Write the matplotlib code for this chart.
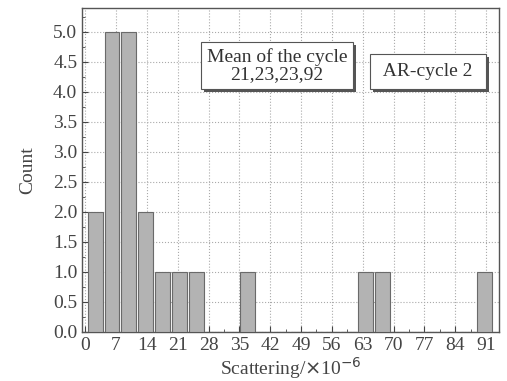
import matplotlib.pyplot as plt
import numpy as np
from matplotlib.ticker import AutoMinorLocator
from matplotlib.patches import Rectangle

# histogram bins
bin_start = 0.34
bin_width = 3.84
counts = [2, 5, 5, 2, 1, 1, 1, 0, 0, 1, 0, 0, 0, 0, 0, 0, 1, 1, 0, 0, 0, 0, 0, 1]
xticks = [0, 7, 14, 21, 28, 35, 42, 49, 56, 63, 70, 77, 84, 91]
yticks = [0.0, 0.5, 1.0, 1.5, 2.0, 2.5, 3.0, 3.5, 4.0, 4.5, 5.0]

plt.rcParams['font.family'] = ['Liberation Serif', 'DejaVu Serif']

fig = plt.figure(figsize=(5.07, 3.81), dpi=100)
ax = fig.add_axes([0.162, 0.129, 0.822, 0.850])

lefts = bin_start + bin_width * np.arange(len(counts))
ax.bar(lefts + bin_width / 2, counts, width=bin_width - 0.45,
       color='#b3b3b3', edgecolor='#6a6a6a', linewidth=0.8, zorder=3)

ax.set_xlim(-0.68, 93.9)
ax.set_ylim(0, 5.4)
ax.set_xticks(xticks)
ax.set_yticks(yticks)
ax.set_yticklabels([f'{v:.1f}' for v in yticks])
ax.xaxis.set_minor_locator(AutoMinorLocator(2))
ax.yaxis.set_minor_locator(AutoMinorLocator(2))
ax.tick_params(which='both', direction='in', labelsize=14, colors='#444444')
ax.tick_params(which='major', length=4)
ax.tick_params(which='minor', length=2)
ax.grid(True, which='major', linestyle=':', color='#aaaaaa', linewidth=0.8, zorder=0)
for s in ax.spines.values():
    s.set_color('#555555')
    s.set_linewidth(1.0)

ax.set_ylabel('Count', fontsize=14, color='#444444', labelpad=12)
ax.set_xlabel('Scattering/$\\times$10$^{-6}$', fontsize=14, color='#444444', labelpad=1)

boxes = []
def text_box(x, y, s, pad):
    t = ax.text(x, y, s, transform=ax.transAxes, fontsize=14, ha='center', va='center',
                color='#333333', linespacing=1.0, zorder=6,
                bbox=dict(boxstyle=f'square,pad={pad}', fc='white', ec='#555555', lw=0.8))
    boxes.append(t)

text_box(0.468, 0.822, 'Mean of the cycle\n21,23,23,92', 0.3)
text_box(0.830, 0.804, ' AR-cycle 2 ', 0.45)

# drop shadow behind each box (3 px right/down)
fig.canvas.draw()
r = fig.canvas.get_renderer()
inv = ax.transData.inverted()
for t in boxes:
    bb = t.get_bbox_patch().get_window_extent(r)
    x0, y0 = inv.transform((bb.x0 + 3, bb.y0 - 3))
    x1, y1 = inv.transform((bb.x1 + 3, bb.y1 - 3))
    ax.add_patch(Rectangle((x0, y0), x1 - x0, y1 - y0, fc='#555555', ec='none', zorder=5))

fig.savefig('out.png', dpi=100)
